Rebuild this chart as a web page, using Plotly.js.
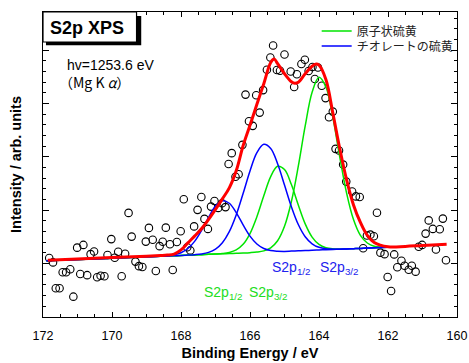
<!DOCTYPE html>
<html>
<head>
<meta charset="utf-8">
<script src="https://cdn.plot.ly/plotly-3.0.1.min.js"></script>
<style>html,body{margin:0;padding:0;background:#fff;}#chart{width:469px;height:363px;}</style>
</head>
<body>
<div id="chart"></div>
<script>
// Measured spectrum (binding energy in eV, intensity in arb. units)
const energy = [171.82,171.71,171.63,171.52,171.43,171.33,171.21,171.12,171.01,170.92,
170.83,170.72,170.62,170.52,170.43,170.33,170.22,170.13,170.02,169.92,
169.82,169.72,169.62,169.52,169.43,169.32,169.22,169.12,169.02,168.93,
168.82,168.73,168.62,168.53,168.44,168.32,168.24,168.12,168.01,167.92,
167.82,167.73,167.62,167.52,167.41,167.32,167.22,167.13,167.03,166.92,
166.81,166.71,166.62,166.53,166.42,166.33,166.22,166.13,166.03,165.92,
165.82,165.72,165.62,165.51,165.41,165.33,165.22,165.13,165.00,164.82,
164.72,164.64,164.51,164.41,164.30,164.19,164.12,164.03,163.92,163.81,
163.71,163.60,163.52,163.42,163.30,163.21,163.04,162.93,162.82,162.72,
162.61,162.51,162.41,162.32,162.22,162.10,162.01,161.91,161.82,161.73,
161.61,161.52,161.40,161.31,161.20,161.11,161.01,160.91,160.82,160.70,
160.61,160.50,160.41,160.32];
const intensity = [1.107,1.023,0.538,0.538,0.839,0.839,0.895,0.381,1.300,0.807,
1.351,0.784,1.178,1.229,0.745,0.773,0.765,1.163,1.460,1.111,
1.223,0.765,1.186,1.951,1.507,1.038,0.953,0.938,1.413,1.670,
1.448,0.863,1.328,1.411,1.675,1.364,0.882,1.407,1.608,2.208,
1.308,1.248,1.698,2.008,2.248,1.839,1.651,2.069,2.173,2.045,
2.133,2.060,2.867,3.071,2.630,2.677,3.227,4.169,3.668,3.583,
4.156,3.831,4.253,4.634,4.865,5.090,4.629,4.615,4.921,4.602,
4.310,4.550,4.743,4.822,4.610,4.685,4.460,4.677,4.334,4.103,
3.743,3.850,3.152,3.120,2.857,2.538,2.351,2.261,2.248,1.289,
1.529,1.544,1.514,1.955,1.206,1.178,0.750,0.488,1.173,0.932,
1.054,0.961,0.887,0.962,0.850,1.317,1.351,1.563,1.811,1.651,
1.266,1.644,1.844,1.064];

// Fitted components, on a common energy grid
const fitEnergy = [171.9,170.0,169.0,168.6,168.4,168.2,168.0,167.8,167.6,167.4,
167.2,167.0,166.8,166.6,166.4,166.2,166.0,165.8,165.6,165.4,
165.2,165.0,164.8,164.6,164.4,164.2,164.0,163.8,163.6,163.4,
163.2,163.0,162.8,162.6,162.4,162.0,161.8];
const atomic32 = [1.054,1.102,1.128,1.138,1.143,1.148,1.153,1.159,1.164,1.169,
1.174,1.179,1.184,1.189,1.194,1.199,1.206,1.217,1.240,1.297,
1.429,1.700,2.165,2.827,3.581,4.213,4.494,4.312,3.745,3.006,
2.323,1.826,1.530,1.387,1.328,1.307,1.312];
const atomic12 = [1.054,1.102,1.128,1.138,1.143,1.148,1.153,1.159,1.164,1.169,
1.174,1.181,1.190,1.210,1.257,1.362,1.564,1.880,2.272,2.632,
2.825,2.765,2.482,2.099,1.746,1.498,1.360,1.298,1.277,1.273,
1.276,1.281,1.286,1.292,1.297,1.307,1.312];
const thiolate32 = [1.054,1.102,1.128,1.138,1.143,1.148,1.153,1.160,1.168,1.182,
1.211,1.273,1.393,1.600,1.913,2.314,2.738,3.080,3.236,3.158,
2.873,2.473,2.066,1.733,1.504,1.372,1.306,1.279,1.272,1.272,
1.276,1.281,1.286,1.292,1.297,1.307,1.312];
const thiolate12 = [1.054,1.102,1.128,1.139,1.148,1.166,1.204,1.284,1.422,1.627,
1.869,2.079,2.180,2.132,1.957,1.727,1.517,1.368,1.283,1.245,
1.233,1.230,1.235,1.240,1.245,1.251,1.256,1.261,1.266,1.271,
1.276,1.281,1.286,1.292,1.297,1.307,1.312];

// Fitted envelope
const envEnergy = [171.86,170.0,169.0,168.6,168.4,168.2,168.0,167.8,167.6,167.4,
167.2,167.0,166.8,166.6,166.4,166.2,166.0,165.8,165.6,165.4,
165.3,165.2,165.0,164.8,164.7,164.6,164.4,164.2,164.1,164.0,
163.8,163.6,163.4,163.2,163.0,162.8,162.6,162.4,162.0,161.5,
161.0,160.3];
const envelope = [1.064,1.114,1.141,1.152,1.160,1.180,1.257,1.390,1.520,1.660,
1.830,2.017,2.214,2.420,2.740,3.210,3.593,3.987,4.372,4.770,
4.835,4.750,4.560,4.410,4.380,4.400,4.560,4.700,4.740,4.720,
4.450,3.827,3.161,2.570,2.101,1.773,1.529,1.398,1.317,1.323,
1.341,1.364];

const legendAtomic = '原子状硫黄';
const legendThiolate = 'チオレートの硫黄';
const xTickVals = [172,170,168,166,164,162,160];

const GREEN = '#00e400', BLUE = '#0000ff', RED = '#ff0000';
const LAT = 'Liberation Sans, Arial, sans-serif';
const JP = 'Noto Sans CJK JP, sans-serif';

const traces = [
  {x: energy, y: intensity, type: 'scatter', mode: 'markers', showlegend: false,
   marker: {symbol: 'circle-open', size: 7.5, color: '#000', line: {width: 1.1, color: '#000'}}},
  {x: fitEnergy, y: atomic32, type: 'scatter', mode: 'lines', name: legendAtomic, legend: 'legend',
   line: {color: GREEN, width: 1.5, shape: 'spline', smoothing: 1}},
  {x: fitEnergy, y: atomic12, type: 'scatter', mode: 'lines', showlegend: false,
   line: {color: GREEN, width: 1.5, shape: 'spline', smoothing: 1}},
  {x: fitEnergy, y: thiolate32, type: 'scatter', mode: 'lines', name: legendThiolate, legend: 'legend2',
   line: {color: BLUE, width: 1.5, shape: 'spline', smoothing: 1}},
  {x: fitEnergy, y: thiolate12, type: 'scatter', mode: 'lines', showlegend: false,
   line: {color: BLUE, width: 1.5, shape: 'spline', smoothing: 1}},
  {x: envEnergy, y: envelope, type: 'scatter', mode: 'lines', showlegend: false,
   line: {color: RED, width: 3, shape: 'spline', smoothing: 1}}
];

const PW = 416, PH = 305, ML = 43, MT = 12;
const px = v => (v - ML) / PW;
const py = v => (MT + PH - v) / PH;

const legendCommon = {xanchor: 'left', yanchor: 'middle', bgcolor: 'rgba(0,0,0,0)',
  borderwidth: 0, font: {family: JP, size: 12, color: '#222'}, itemwidth: 30};

const layout = {
  width: 469, height: 363,
  margin: {l: ML, r: 10, t: MT, b: 46},
  paper_bgcolor: '#fff', plot_bgcolor: '#fff',
  xaxis: {
    range: [172, 160], tickvals: xTickVals, ticktext: xTickVals.map(String),
    ticks: 'inside', ticklen: 5, tickwidth: 1, tickcolor: '#000',
    showline: true, linecolor: '#000', linewidth: 1.2, mirror: 'ticks',
    showgrid: false, zeroline: false,
    minor: {dtick: 0.5, tick0: 160, ticks: 'inside', ticklen: 3, tickwidth: 1, tickcolor: '#000', showgrid: false},
    tickfont: {family: LAT, size: 12.5, color: '#000'},
    ticklabelstandoff: 7,
    title: {text: 'Binding Energy / eV', standoff: 5, font: {family: LAT, size: 14.5, color: '#000', weight: 'bold'}}
  },
  yaxis: {
    range: [0, 5.717], dtick: 1, tick0: 0,
    ticks: 'inside', ticklen: 6, tickwidth: 1, tickcolor: '#000',
    showline: true, linecolor: '#000', linewidth: 1.2, mirror: 'ticks',
    showgrid: false, zeroline: false, showticklabels: false,
    minor: {dtick: 0.2, tick0: 0, ticks: 'inside', ticklen: 3, tickwidth: 1, tickcolor: '#000', showgrid: false},
    title: {text: 'Intensity / arb. units', standoff: 16, font: {family: LAT, size: 14.5, color: '#000', weight: 'bold'}}
  },
  legend: Object.assign({x: px(318), y: py(31)}, legendCommon),
  legend2: Object.assign({x: px(318), y: py(46)}, legendCommon),
  shapes: [
    {type: 'rect', xref: 'paper', yref: 'paper', x0: px(46), x1: px(141.7), y0: py(45.3), y1: py(16),
     fillcolor: '#000', line: {width: 0}, layer: 'above'},
    {type: 'rect', xref: 'paper', yref: 'paper', x0: px(43), x1: px(137), y0: py(42), y1: py(12),
     fillcolor: '#fff', line: {width: 1.2, color: '#000'}, layer: 'above'}
  ],
  annotations: [
    {text: '<b>S2p XPS</b>', xref: 'paper', yref: 'paper', x: px(87), y: py(27.5), xanchor: 'center', yanchor: 'middle',
     showarrow: false, font: {family: LAT, size: 18, color: '#000'}},
    {text: 'hv=1253.6 eV', xref: 'paper', yref: 'paper', x: px(65), y: py(65), xanchor: 'left', yanchor: 'middle',
     showarrow: false, font: {family: LAT, size: 14, color: '#000'}},
    {text: '（Mg K <i>α</i>）', xref: 'paper', yref: 'paper', x: px(57), y: py(82), xanchor: 'left', yanchor: 'middle',
     showarrow: false, font: {family: JP, size: 14, color: '#000'}},
    {text: 'S2p<sub>1/2</sub>', xref: 'paper', yref: 'paper', x: px(271), y: py(268), xanchor: 'left', yanchor: 'middle',
     showarrow: false, font: {family: LAT, size: 14, color: '#2222ee'}},
    {text: 'S2p<sub>3/2</sub>', xref: 'paper', yref: 'paper', x: px(319.5), y: py(268), xanchor: 'left', yanchor: 'middle',
     showarrow: false, font: {family: LAT, size: 14, color: '#2222ee'}},
    {text: 'S2p<sub>1/2</sub>', xref: 'paper', yref: 'paper', x: px(203), y: py(293), xanchor: 'left', yanchor: 'middle',
     showarrow: false, font: {family: LAT, size: 14, color: '#22dd22'}},
    {text: 'S2p<sub>3/2</sub>', xref: 'paper', yref: 'paper', x: px(248), y: py(293), xanchor: 'left', yanchor: 'middle',
     showarrow: false, font: {family: LAT, size: 14, color: '#22dd22'}}
  ]
};

Plotly.newPlot('chart', traces, layout, {displayModeBar: false, staticPlot: true});
</script>
</body>
</html>
